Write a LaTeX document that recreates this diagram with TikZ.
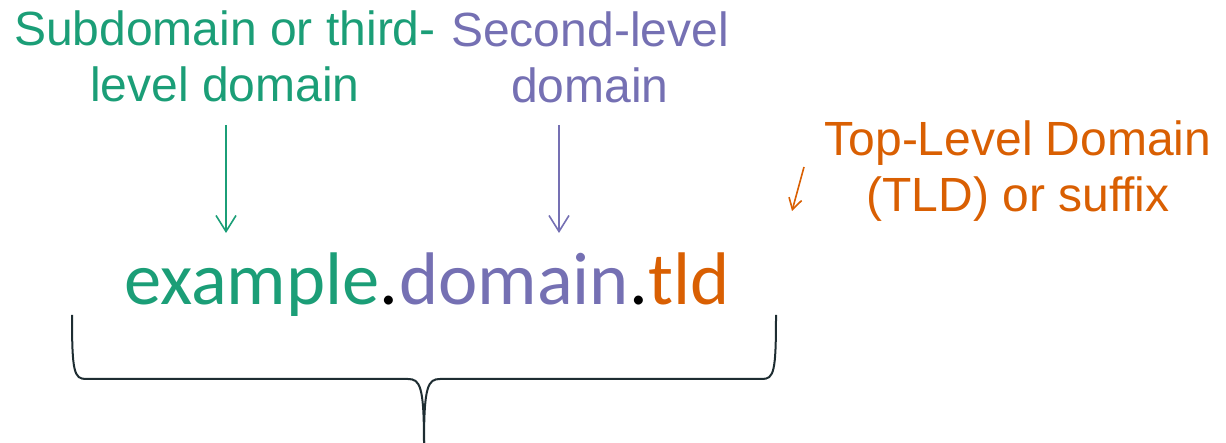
\documentclass[tikz,border=0pt]{standalone}
\usepackage{fontspec}
\usetikzlibrary{arrows.meta}
\newfontfamily\arialf{Liberation Sans}
\newfontfamily\calf{Carlito}
\definecolor{dgreen}{HTML}{1B9E77}
\definecolor{dpurple}{HTML}{7570B3}
\definecolor{dorange}{HTML}{D95F02}
\definecolor{bracec}{RGB}{30,45,50}
\tikzset{
  lbl/.style={inner sep=0pt, align=center, anchor=base, font=\arialf\fontsize{48}{56}\selectfont},
  part/.style={inner sep=0pt, anchor=base west, font=\calf\fontsize{74.5}{80}\selectfont},
  pointer/.style={line width=1.6pt, -{Straight Barb[length=16pt,width=20pt,line width=1.6pt]}},
  smallpointer/.style={line width=1.6pt, -{Straight Barb[length=11pt,width=13pt,line width=1.6pt]}},
  bracestyle/.style={line width=2pt, draw=bracec}
}
\begin{document}
\begin{tikzpicture}[x=1pt,y=-1pt]
\useasboundingbox (0,0) rectangle (1226,443);
% labels (base anchor = baseline of last line)
\node[lbl, text=dgreen] (gl) at (225,102) {Subdomain or third-\\level domain};
\node[lbl, text=dpurple] (pl) at (590,103) {Second-level\\domain};
\node[lbl, text=dorange] (ol) at (1018,212) {Top-Level Domain\\(TLD) or suffix};
% main text
\node[part, text=dgreen] (ex) at (124,305) {example};
\node[part, text=black] (d1) at (ex.base east) {.};
\node[part, text=dpurple] (dom) at (d1.base east) {domain};
\node[part, text=black] (d2) at (dom.base east) {.};
\node[part, text=dorange] (tld) at (d2.base east) {tld};
% arrows
\coordinate (gs) at (226,125);
\coordinate (ge) at (226,233);
\coordinate (ps) at (559,125);
\coordinate (pe) at (559,233);
\coordinate (os) at (804,167);
\coordinate (oe) at (792,211);
\draw[pointer, draw=dgreen] (gs) -- (ge);
\draw[pointer, draw=dpurple] (ps) -- (pe);
\draw[smallpointer, draw=dorange] (os) -- (oe);
% brace
\coordinate (bl) at (72,315);
\coordinate (bt) at (424,443);
\coordinate (br) at (776,315);
\draw[bracestyle] (bl) .. controls (72,372) and (74,379) .. (86,379) -- (408,379)
  .. controls (420,379) and (424,386) .. (bt);
\draw[bracestyle] (bt) .. controls (424,386) and (428,379) .. (440,379) -- (762,379)
  .. controls (774,379) and (776,372) .. (br);
\end{tikzpicture}
\end{document}
